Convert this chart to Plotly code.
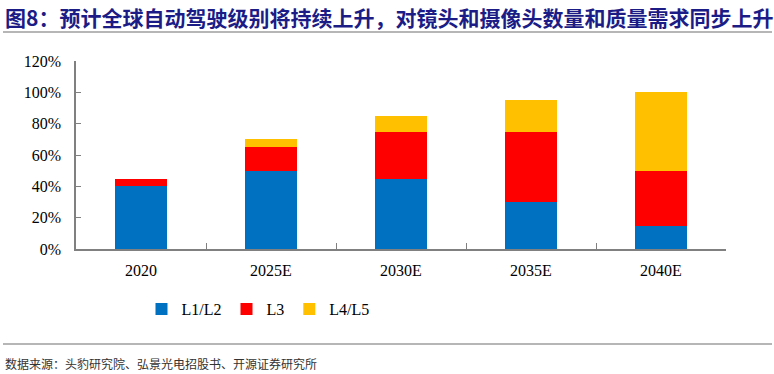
import plotly.graph_objects as go

categories = ["2020", "2025E", "2030E", "2035E", "2040E"]
l1l2 = [40, 50, 45, 30, 15]
l3 = [5, 15, 30, 45, 35]
l4l5 = [0, 5, 10, 20, 50]
series_names = ["L1/L2", "L3", "L4/L5"]
colors = ["#0070C0", "#FF0000", "#FFC000"]
y_ticks = [0, 20, 40, 60, 80, 100, 120]
y_tick_labels = [f"{v}%" for v in y_ticks]

title_text = "图8：预计全球自动驾驶级别将持续上升，对镜头和摄像头数量和质量需求同步上升"
source_text = "数据来源：头豹研究院、弘景光电招股书、开源证券研究所"

W, H = 774, 374
L, R, T, B = 76, 48, 61, 125
pw, ph = W - L - R, H - T - B

def px_x(x):
    return (x - L) / pw

def px_y(y):
    return (H - B - y) / ph

fig = go.Figure()
for name, vals, col in zip(series_names, [l1l2, l3, l4l5], colors):
    fig.add_trace(go.Bar(x=categories, y=vals, name=name, marker=dict(color=col, line=dict(width=0)),
                         width=0.4))

serif = "Liberation Serif, Times New Roman, serif"
cjk = "Noto Sans CJK SC"

fig.update_layout(
    barmode="stack",
    width=W, height=H,
    margin=dict(l=L, r=R, t=T, b=B, autoexpand=False),
    paper_bgcolor="white", plot_bgcolor="white",
    font=dict(family=serif, size=16, color="#000000"),
    showlegend=True,
    legend=dict(orientation="h", traceorder="normal", x=px_x(258), y=px_y(309), xanchor="center",
                yanchor="middle", font=dict(family=serif, size=16), itemwidth=30, tracegroupgap=0,
                bgcolor="rgba(0,0,0,0)"),
    xaxis=dict(showline=True, linecolor="#808080", linewidth=1.5, ticks="inside", ticklen=6,
               tickcolor="#808080", tickson="boundaries", showgrid=False,
               tickfont=dict(family=serif, size=16), ticklabelstandoff=6),
    yaxis=dict(range=[0, 120], tickvals=y_ticks, ticktext=y_tick_labels, showline=True,
               linecolor="#808080", linewidth=1.5, ticks="inside", ticklen=5, tickcolor="#808080",
               showgrid=False, zeroline=False, tickfont=dict(family=serif, size=16),
               ticklabelstandoff=10),
    annotations=[
        dict(text=title_text, xref="paper", yref="paper", x=px_x(3), y=px_y(16.5), xanchor="left",
             yanchor="middle", showarrow=False,
             font=dict(family=cjk, size=21, color="#1C1C86", weight="bold")),
        dict(text=source_text, xref="paper", yref="paper", x=px_x(3), y=px_y(363), xanchor="left",
             yanchor="middle", showarrow=False,
             font=dict(family=cjk, size=12, color="#333333")),
    ],
    shapes=[
        dict(type="line", xref="paper", yref="paper", x0=px_x(3), x1=px_x(772), y0=px_y(32), y1=px_y(32),
             line=dict(color="#6E6E6E", width=1.2)),
        dict(type="line", xref="paper", yref="paper", x0=px_x(3), x1=px_x(772), y0=px_y(344), y1=px_y(344),
             line=dict(color="#6E6E6E", width=1.2)),
    ],
)

fig.write_html("out.html", config={"displayModeBar": False},
               post_script="document.body.style.margin='0';")
